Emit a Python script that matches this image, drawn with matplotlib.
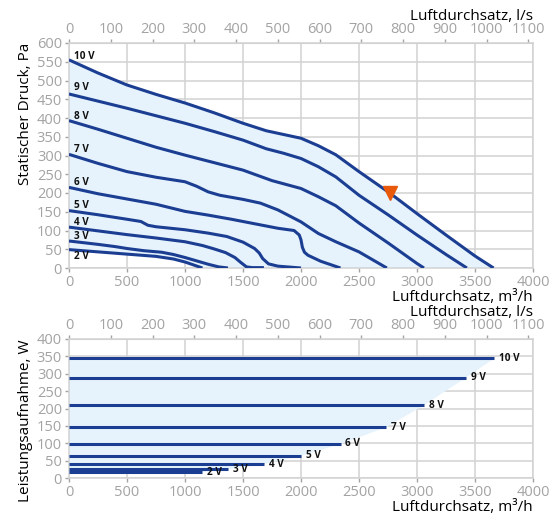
import matplotlib
matplotlib.use("Agg")
import matplotlib.pyplot as plt

plt.rcParams['font.family'] = ['Open Sans', 'DejaVu Sans']

# Kennlinien: Luftdurchsatz (m3/h) und statischer Druck (Pa)
q10 = [0, 250, 500, 750, 1000, 1250, 1500, 1700, 1850, 2000, 2150, 2300, 2500, 2765, 3000, 3250, 3500, 3660]
p10 = [555, 520, 488, 463, 440, 414, 386, 366, 356, 346, 326, 302, 257, 200, 145, 88, 32, 0]
q9 = [0, 250, 500, 750, 1000, 1250, 1500, 1700, 1850, 2000, 2150, 2300, 2500, 2750, 3000, 3250, 3430]
p9 = [464, 445, 426, 406, 386, 364, 341, 318, 306, 292, 270, 243, 194, 142, 88, 36, 0]
q8 = [0, 250, 500, 750, 1000, 1250, 1500, 1750, 2000, 2150, 2300, 2500, 2750, 3000, 3060]
p8 = [393, 370, 346, 322, 301, 281, 261, 233, 212, 190, 166, 120, 67, 12, 0]
q7 = [0, 250, 500, 750, 1000, 1100, 1200, 1300, 1500, 1650, 1800, 2000, 2150, 2300, 2500, 2740]
p7 = [303, 279, 257, 242, 230, 218, 203, 194, 183, 173, 155, 123, 92, 70, 43, 0]
q6 = [0, 250, 500, 750, 1000, 1200, 1400, 1600, 1800, 1940, 1985, 2000, 2012, 2030, 2060, 2170, 2340]
p6 = [215, 198, 184, 170, 151, 141, 130, 118, 106, 100, 88, 75, 55, 42, 34, 18, 0]
q5 = [0, 250, 500, 620, 680, 750, 1000, 1200, 1360, 1500, 1600, 1640, 1670, 1720, 1800, 2000]
p5 = [153, 142, 130, 124, 114, 110, 102, 93, 84, 69, 52, 40, 25, 11, 5, 0]
q4 = [0, 250, 500, 750, 1000, 1150, 1250, 1350, 1430, 1480, 1530, 1580, 1680]
p4 = [109, 99, 89, 80, 70, 60, 51, 41, 28, 15, 3, 1, 1]
q3 = [0, 250, 400, 500, 650, 800, 900, 1000, 1100, 1200, 1290, 1370]
p3 = [72, 63, 57, 52, 46, 42, 36, 28, 19, 10, 3, 0]
q2 = [0, 250, 500, 750, 900, 1000, 1075, 1150]
p2 = [49, 43, 37, 31, 24, 16, 8, 0]

curves_q = [q2, q3, q4, q5, q6, q7, q8, q9, q10]
curves_p = [p2, p3, p4, p5, p6, p7, p8, p9, p10]
labels = ['2 V', '3 V', '4 V', '5 V', '6 V', '7 V', '8 V', '9 V', '10 V']
label_p = [31, 84, 122, 166, 229, 315, 404, 480, 564]

# Betriebspunkt
op_q = [2765]
op_p = [200]

# Leistungsaufnahme (W) und maximaler Luftdurchsatz je Spannung
power = [17, 25, 40, 64, 98, 146, 210, 289, 344]
q_max = [1150, 1370, 1680, 2000, 2343, 2734, 3062, 3422, 3667]

x_ticks = list(range(0, 4001, 500))
ls_ticks = list(range(0, 1101, 100))

line_c = '#1b3e93'
fill_c = '#e6f3fc'
grid_c = '#d2d2d2'
tick_c = '#a3a3a3'


def to_ls(x):
    return x / 3.6


def to_m3h(x):
    return x * 3.6


def style(ax, yticks):
    ax.set_xlim(0, 4000)
    ax.set_ylim(yticks[0], yticks[-1])
    ax.set_xticks(x_ticks)
    ax.set_yticks(yticks)
    ax.grid(True, color=grid_c, lw=1.1)
    ax.set_axisbelow(True)
    for s in ax.spines.values():
        s.set_color(grid_c)
        s.set_linewidth(1.1)
    ax.tick_params(colors=tick_c, labelsize=10.5, length=3, width=1, pad=2,
                   labelcolor=tick_c)
    ax.set_xlabel('Luftdurchsatz, m³/h', loc='right', fontsize=11, labelpad=0)
    sec = ax.secondary_xaxis('top', functions=(to_ls, to_m3h))
    sec.set_xticks(ls_ticks)
    sec.tick_params(colors=tick_c, labelsize=10.5, length=3, width=1, pad=1,
                    labelcolor=tick_c)
    sec.spines['top'].set_color(grid_c)
    sec.set_xlabel('Luftdurchsatz, l/s', loc='right', fontsize=11, labelpad=2)
    return sec


fig = plt.figure(figsize=(5.58, 5.17), dpi=100)

# oberes Diagramm: Druck
ax1 = fig.add_axes([69 / 558, 1 - 268 / 517, 464 / 558, 225 / 517])
style(ax1, list(range(0, 601, 50)))
fx = q10 + q2[::-1]
fy = p10 + p2[::-1]
ax1.fill(fx, fy, color=fill_c, lw=0, zorder=1)
for q, p in zip(curves_q, curves_p):
    ax1.plot(q, p, color=line_c, lw=2.2, solid_capstyle='butt',
             solid_joinstyle='round', zorder=3)
for lab, y in zip(labels, label_p):
    ax1.text(45, y, lab, fontsize=7.2, fontweight='bold', va='center', ha='left',
             color='#111111', zorder=4)
ax1.plot(op_q, op_p, marker='v', ms=10, color='#e8590c', ls='none', zorder=5)
ax1.set_ylabel('Statischer Druck, Pa', loc='top', fontsize=11, labelpad=3)

# unteres Diagramm: Leistung
ax2 = fig.add_axes([69 / 558, 1 - 478 / 517, 464 / 558, 139 / 517])
style(ax2, list(range(0, 401, 50)))
px = [0] + q_max[::-1] + [0]
py = [power[-1]] + power[::-1] + [power[0]]
ax2.fill(px, py, color=fill_c, lw=0, zorder=1)
for qm, w, lab in zip(q_max, power, labels):
    ax2.plot([0, qm], [w, w], color=line_c, lw=2.2, solid_capstyle='butt', zorder=3)
    ax2.text(qm + 40, w, lab, fontsize=7.2, fontweight='bold', va='center', ha='left',
             color='#111111', zorder=4)
ax2.set_ylabel('Leistungsaufnahme, W', loc='top', fontsize=11, labelpad=3)

fig.savefig('out.png', dpi=100)
